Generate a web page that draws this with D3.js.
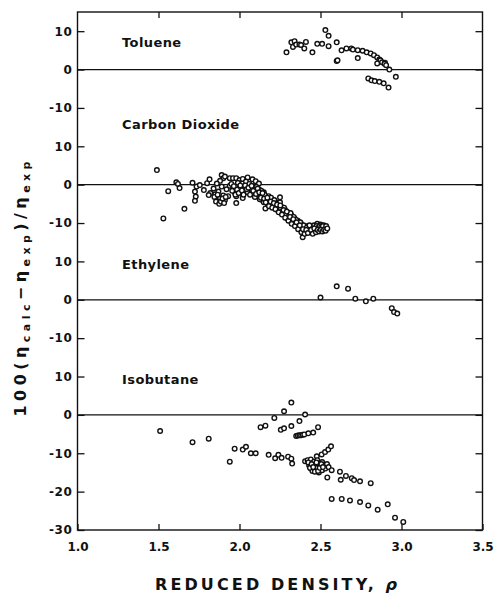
<!DOCTYPE html>
<html>
<head>
<meta charset="utf-8">
<script src="https://cdn.jsdelivr.net/npm/d3@7"></script>
<style>
  body { margin: 0; background: #fff; }
  text { font-family: "DejaVu Sans", sans-serif; font-weight: bold; fill: #111; }
</style>
</head>
<body>
<svg id="chart" width="497" height="593"></svg>
<script>
// stacked panels share one y axis, each shifted by its offset
const panelNames = ['Toluene', 'Carbon Dioxide', 'Ethylene', 'Isobutane'];
const panelOffsets = [90, 60, 30, 0];
const panelTicks = [[10, 0, -10], [10, 0, -10], [10, 0, -10], [10, 0, -10, -20, -30]];
const labelLevels = [6, 14.5, 8, 8];
const xTicks = [1.0, 1.5, 2.0, 2.5, 3.0, 3.5];

const toluene = [
  [2.29, 4.5], [2.32, 7.1], [2.33, 5.9], [2.34, 7.4], [2.35, 6.5], [2.37, 6.5], [2.38, 6.4],
  [2.40, 5.5], [2.41, 7.2], [2.45, 4.5], [2.48, 6.7], [2.51, 6.7], [2.53, 10.3], [2.55, 8.8],
  [2.55, 6.1], [2.60, 7.1], [2.60, 2.2], [2.605, 2.4], [2.63, 5.0], [2.66, 5.5], [2.69, 5.5],
  [2.70, 5.2], [2.73, 5.05], [2.73, 3.0], [2.76, 4.9], [2.785, 4.5], [2.81, 4.2], [2.83, 3.75],
  [2.85, 3.15], [2.863, 2.6], [2.87, 2.4], [2.85, 1.6], [2.88, 1.9], [2.898, 1.75], [2.895, 1.5],
  [2.905, 1.15], [2.925, 0.0], [2.965, -1.9], [2.795, -2.3], [2.815, -2.8], [2.835, -3.0],
  [2.863, -3.2], [2.89, -3.6], [2.92, -4.7]
];

const carbonDioxide = [
  [1.49, 3.8], [1.53, -8.8], [1.56, -1.7], [1.61, 0.6], [1.62, 0.2], [1.63, -0.9], [1.66, -6.3],
  [1.71, 0.5], [1.725, -1.8], [1.73, -3.1], [1.725, -4.2], [1.735, -0.5], [1.755, -0.1],
  [1.78, -1.4], [1.80, 0.4], [1.815, 1.4], [1.82, -2.2], [1.81, -2.7], [1.98, -4.8], [2.16, -6.2],
  [2.25, -3.3], [2.20, -4.7], [2.39, -13.7],
  [1.89, 2.5], [1.90, 1.7], [1.91, 2.1], [1.94, 1.7], [1.96, 1.7], [1.98, 1.7], [2.00, 1.2],
  [2.02, 0.4], [1.88, 1.0], [1.86, 0.3], [2.02, 1.5], [2.05, 1.9], [2.08, 1.4], [2.10, 0.9], [2.12, 0.3],
  [1.84, -1.0], [1.85, -2.5], [1.86, -3.8], [1.87, -4.3], [1.88, -3.5], [1.87, -1.8], [1.89, -0.5],
  [1.90, -2.8], [1.91, -4.0], [1.92, -1.2], [1.93, -3.0], [1.94, -0.3],
  [1.845, -3.2], [1.855, -4.4], [1.865, -2.6], [1.875, -5.0], [1.885, -4.4], [1.895, -3.6],
  [1.905, -4.8], [1.915, -3.2],
  [1.95, 0.2], [1.96, -1.0], [1.97, -2.0], [1.99, 0.5], [2.00, -0.8], [2.01, -2.2], [2.02, -3.5],
  [2.03, -1.0], [2.04, 0.8], [2.05, -2.0], [1.98, -3.0],
  [2.06, 0.2], [2.07, -1.0], [2.08, -2.3], [2.09, -0.5], [2.10, -1.8], [2.11, -3.0], [2.12, -1.2],
  [2.13, -2.6], [2.14, -4.0], [2.15, -2.0],
  [2.16, -3.2], [2.17, -4.5], [2.18, -3.0], [2.19, -5.0], [2.20, -4.0], [2.21, -5.6], [2.22, -4.4],
  [2.23, -6.2], [2.24, -5.0], [2.25, -6.8],
  [2.26, -5.8], [2.27, -7.4], [2.28, -6.5], [2.29, -8.2], [2.30, -7.3], [2.31, -9.0], [2.32, -8.0],
  [2.33, -9.8], [2.34, -8.8], [2.35, -10.5],
  [2.36, -9.4], [2.37, -11.2], [2.38, -10.2], [2.39, -12.0], [2.40, -11.0], [2.41, -12.6],
  [2.42, -10.8], [2.43, -12.0], [2.44, -11.0],
  [2.45, -12.2], [2.46, -10.6], [2.47, -11.6], [2.48, -10.2], [2.49, -11.4], [2.50, -10.4],
  [2.51, -11.5], [2.52, -10.6], [2.53, -11.2],
  [1.955, -1.6], [1.965, -0.4], [1.975, -2.6], [1.985, -1.3], [1.995, -2.2], [2.005, -0.2],
  [2.015, -1.5], [2.025, -2.6], [2.035, -0.2], [2.045, -1.2],
  [2.055, -0.8], [2.065, -2.6], [2.075, -0.3], [2.085, -1.6], [2.095, -3.2], [2.105, -0.6],
  [2.115, -2.3], [2.125, -3.8], [2.135, -1.6], [2.145, -3.0], [2.15, -4.6],
  [2.155, -2.6], [2.165, -3.8], [2.175, -5.2], [2.185, -4.0], [2.195, -3.4], [2.205, -5.0],
  [2.215, -4.0], [2.225, -5.4], [2.235, -6.6], [2.245, -5.8], [2.25, -4.6],
  [2.255, -6.2], [2.265, -7.0], [2.275, -6.0], [2.285, -7.6], [2.295, -8.8], [2.305, -8.2],
  [2.315, -7.4], [2.325, -9.2], [2.335, -8.4], [2.345, -10.0], [2.35, -9.2],
  [2.355, -10.0], [2.365, -10.6], [2.375, -9.8], [2.385, -11.4], [2.395, -10.6], [2.405, -11.8],
  [2.415, -11.2], [2.425, -11.6], [2.435, -11.2], [2.445, -12.2],
  [2.455, -11.4], [2.465, -12.0], [2.475, -10.8], [2.485, -11.2], [2.495, -10.8], [2.505, -11.0],
  [2.515, -10.8], [2.525, -11.6], [2.535, -10.8],
  [2.102, -2.4], [2.112, -1.0], [2.122, -2.0], [2.132, -3.4], [2.142, -2.2], [2.152, -3.6],
  [2.162, -4.6], [2.172, -3.4], [2.182, -5.6], [2.192, -4.4], [2.202, -6.0], [2.212, -4.8],
  [2.222, -6.4], [2.232, -5.2], [2.242, -7.2], [2.252, -5.4], [2.262, -7.8], [2.272, -6.6],
  [2.282, -8.6], [2.292, -7.0], [2.302, -9.4], [2.312, -8.4], [2.322, -10.2], [2.332, -9.0],
  [2.342, -10.8], [2.352, -9.8], [2.362, -11.6], [2.372, -10.6], [2.382, -12.4], [2.392, -11.6],
  [2.402, -12.8], [2.412, -11.8], [2.422, -12.6], [2.432, -10.6], [2.442, -11.8], [2.452, -12.8],
  [2.462, -11.4], [2.472, -12.4], [2.482, -11.8], [2.492, -12.2], [2.502, -11.8], [2.512, -12.2],
  [2.522, -11.8], [2.532, -12.0], [2.542, -11.4]
];

const ethylene = [
  [2.50, 0.6], [2.60, 3.5], [2.67, 2.9], [2.715, 0.3], [2.78, -0.4], [2.826, 0.3],
  [2.94, -2.2], [2.954, -3.2], [2.974, -3.6]
];

const isobutane = [
  [1.51, -4.2], [1.71, -7.1], [1.81, -6.2], [1.94, -12.2], [1.97, -8.8], [2.02, -9.05], [2.04, -8.3],
  [2.07, -10.0], [2.10, -10.0], [2.13, -3.2], [2.16, -2.8], [2.18, -10.4], [2.215, -0.8],
  [2.22, -11.3], [2.24, -10.4], [2.26, -11.2], [2.255, -3.9], [2.275, -3.5], [2.275, 0.95],
  [2.30, -10.9], [2.32, -2.9], [2.32, 3.2], [2.32, -11.4], [2.325, -12.7], [2.37, -1.6],
  [2.405, 0.1], [2.405, -12.05],
  [2.35, -5.5], [2.36, -5.4], [2.37, -5.3], [2.38, -5.3], [2.39, -5.2], [2.40, -5.1],
  [2.425, -4.8], [2.455, -4.6], [2.485, -3.2],
  [2.477, -10.8], [2.507, -10.3], [2.528, -9.7], [2.548, -9.05], [2.565, -8.2],
  [2.42, -11.8], [2.43, -13.2], [2.44, -11.6], [2.44, -14.0], [2.45, -12.6], [2.45, -14.6],
  [2.46, -12.2], [2.46, -13.4], [2.47, -13.0], [2.47, -14.4], [2.48, -11.8], [2.48, -13.8],
  [2.49, -12.6], [2.49, -15.0], [2.50, -13.4], [2.51, -12.3], [2.51, -14.4], [2.52, -13.2],
  [2.53, -14.0], [2.54, -12.8], [2.55, -13.6],
  [2.425, -12.4], [2.435, -13.8], [2.445, -12.8], [2.455, -13.6], [2.465, -14.8], [2.475, -12.4],
  [2.485, -14.6], [2.495, -13.8], [2.505, -12.8], [2.515, -13.6],
  [2.542, -16.3], [2.569, -14.4], [2.62, -14.8], [2.625, -16.9], [2.657, -15.9], [2.693, -16.5],
  [2.707, -17.0], [2.744, -17.3], [2.81, -17.8],
  [2.569, -21.9], [2.631, -21.9], [2.682, -22.3], [2.744, -22.7], [2.795, -23.6], [2.853, -24.7],
  [2.915, -23.3], [2.96, -26.8], [3.011, -27.9]
];

const panelData = [toluene, carbonDioxide, ethylene, isobutane];

const svg = d3.select('#chart');
const margin = { top: 12, right: 14.5, bottom: 63, left: 77.5 };
const width = 497 - margin.left - margin.right;
const height = 593 - margin.top - margin.bottom;

const x = d3.scaleLinear().domain([1.0, 3.5]).range([0, width]);
const y = d3.scaleLinear().domain([-30, 105]).range([height, 0]);

const g = svg.append('g').attr('transform', `translate(${margin.left},${margin.top})`);

// y ticks in shifted units, with their local labels
const yTickValues = [];
const yTickLabels = new Map();
panelOffsets.forEach((off, i) => {
  panelTicks[i].forEach((t) => {
    yTickValues.push(off + t);
    yTickLabels.set(off + t, `${t}`);
  });
});

const styleAxis = (sel) => {
  sel.select('.domain').remove();
  sel.selectAll('line').attr('stroke', '#111').attr('stroke-width', 1.3);
  sel.selectAll('text')
    .attr('font-family', '"DejaVu Sans", sans-serif')
    .attr('font-weight', 'bold')
    .attr('font-size', 12)
    .attr('fill', '#111');
};

g.append('g')
  .call(d3.axisLeft(y).tickValues(yTickValues).tickFormat((d) => yTickLabels.get(d))
    .tickSizeInner(-7).tickSizeOuter(0).tickPadding(5))
  .call(styleAxis)
  .selectAll('text').attr('letter-spacing', 0.6);

g.append('g')
  .attr('transform', `translate(${width},0)`)
  .call(d3.axisRight(y).tickValues(yTickValues).tickFormat('')
    .tickSizeInner(-7).tickSizeOuter(0))
  .call(styleAxis);

g.append('g')
  .call(d3.axisTop(x).tickValues(xTicks.slice(1, -1)).tickFormat('')
    .tickSizeInner(-6).tickSizeOuter(0))
  .call(styleAxis);

g.append('g')
  .attr('transform', `translate(0,${height})`)
  .call(d3.axisBottom(x).tickValues(xTicks).tickFormat(d3.format('.1f'))
    .tickSizeInner(-6).tickSizeOuter(0).tickPadding(12))
  .call(styleAxis);

// frame
g.append('rect')
  .attr('width', width)
  .attr('height', height)
  .attr('fill', 'none')
  .attr('stroke', '#111')
  .attr('stroke-width', 1.4);

// zero line of each panel
g.selectAll('.zero')
  .data(panelOffsets)
  .join('line')
  .attr('class', 'zero')
  .attr('x1', 0)
  .attr('x2', width)
  .attr('y1', (d) => y(d))
  .attr('y2', (d) => y(d))
  .attr('stroke', '#111')
  .attr('stroke-width', 1.3);

// panel names
g.selectAll('.name')
  .data(panelNames)
  .join('text')
  .attr('class', 'name')
  .attr('x', x(1.275))
  .attr('y', (d, i) => y(panelOffsets[i] + labelLevels[i]))
  .attr('font-size', 13)
  .attr('letter-spacing', 0.4)
  .text((d) => d);

// points
panelData.forEach((rows, i) => {
  g.append('g')
    .selectAll('circle')
    .data(rows)
    .join('circle')
    .attr('cx', (d) => x(d[0]))
    .attr('cy', (d) => y(panelOffsets[i] + d[1]))
    .attr('r', 2.3)
    .attr('fill', '#fff')
    .attr('stroke', '#111')
    .attr('stroke-width', 1.4);
});

// axis titles
const xTitle = svg.append('text')
  .attr('x', 276)
  .attr('y', 590)
  .attr('text-anchor', 'middle')
  .attr('font-size', 16)
  .attr('textLength', 242)
  .attr('lengthAdjust', 'spacing');
xTitle.append('tspan').text('REDUCED DENSITY, ');
xTitle.append('tspan').attr('font-style', 'italic').text('ρ');

const yTitle = svg.append('text')
  .attr('transform', 'translate(26,289) rotate(-90)')
  .attr('text-anchor', 'middle')
  .attr('font-size', 16)
  .attr('textLength', 255)
  .attr('lengthAdjust', 'spacing');
yTitle.append('tspan').text('100(η');
yTitle.append('tspan').attr('font-size', 11).attr('dy', 4).text('calc');
yTitle.append('tspan').attr('dy', -4).text('−η');
yTitle.append('tspan').attr('font-size', 11).attr('dy', 4).text('exp');
yTitle.append('tspan').attr('dy', -4).text(')/η');
yTitle.append('tspan').attr('font-size', 11).attr('dy', 4).text('exp');
</script>
</body>
</html>
